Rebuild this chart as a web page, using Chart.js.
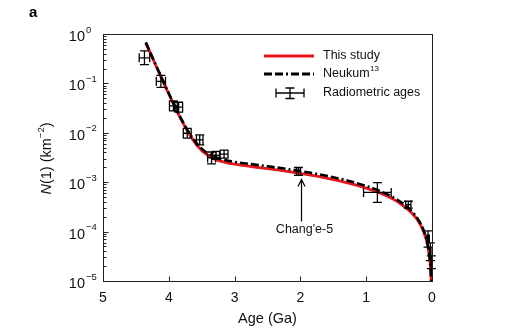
<!DOCTYPE html>
<html>
<head>
<meta charset="utf-8">
<script src="https://cdn.jsdelivr.net/npm/chart.js@4.4.0/dist/chart.umd.min.js"></script>
<style>
  html, body { margin: 0; padding: 0; background: #fff; }
</style>
</head>
<body>
<canvas id="chartCrater" width="516" height="330"></canvas>
<script>
// model curves, N(1) in km^-2 vs age in Ga
const curveAges = [4.35, 4.3, 4.2, 4.1, 4.0, 3.9, 3.8, 3.7, 3.6, 3.5, 3.4, 3.3, 3.2, 3.1, 3.0,
  2.75, 2.5, 2.25, 2.0, 1.75, 1.5, 1.25, 1.0, 0.8, 0.6, 0.45, 0.3, 0.2, 0.13, 0.08, 0.05,
  0.03, 0.02, 0.014, 0.01];
const thisStudyN = [0.66, 0.47, 0.236, 0.119, 0.061, 0.0318, 0.0172, 0.0099, 0.00625, 0.0044,
  0.00345, 0.00293, 0.00263, 0.00244, 0.00231, 0.00208, 0.00188, 0.0017, 0.00151, 0.00132,
  0.00113, 0.000945, 0.00076, 0.00061, 0.00046, 0.000345, 0.000232, 0.000156, 0.000102,
  0.000063, 0.0000395, 0.0000238, 0.000016, 0.0000112, 0.000008];
const neukumN = [0.676, 0.479, 0.241, 0.122, 0.0628, 0.033, 0.018, 0.0105, 0.00673, 0.00479,
  0.00378, 0.00323, 0.00291, 0.00271, 0.00257, 0.00232, 0.0021, 0.00189, 0.00168, 0.00147,
  0.00126, 0.00105, 0.000838, 0.00067, 0.000503, 0.000377, 0.000251, 0.000168, 0.000109,
  0.000067, 0.0000419, 0.0000251, 0.0000168, 0.0000117, 0.0000084];

// radiometric calibration samples (age ± err, N(1) ± err in decades)
const sampleAges = [4.37, 4.12, 3.93, 3.85, 3.72, 3.53, 3.35, 3.28, 3.16, 2.03, 0.83, 0.36, 0.06, 0.025, 0.01];
const sampleAgeErr = [0.08, 0.07, 0.06, 0.06, 0.06, 0.05, 0.06, 0.05, 0.06, 0.03, 0.21, 0.04, 0.02, 0.01, 0.005];
const sampleN = [0.33, 0.11, 0.035, 0.033, 0.0098, 0.0072, 0.0031, 0.0035, 0.0037, 0.00165,
  0.00062, 0.00035, 0.000071, 0.000039, 0.000024];
const sampleNErr = [0.14, 0.12, 0.1, 0.1, 0.1, 0.1, 0.12, 0.08, 0.08, 0.08, 0.2, 0.07, 0.165, 0.18, 0.13];

const ageTicks = [5, 4, 3, 2, 1, 0];
const nDecades = [0, -1, -2, -3, -4, -5];
const legendLabels = ['This study', 'Neukum', 'Radiometric ages'];
const ce5Age = 1.99;

const FONT = '"Liberation Sans", Arial, Helvetica, sans-serif';
const RED = '#e8161d';
const CAP = 4.5;

function errBar(ctx, x0, y0, x1, y1, horiz) {
  ctx.moveTo(x0, y0); ctx.lineTo(x1, y1);
  if (horiz) {
    ctx.moveTo(x0, y0 - CAP); ctx.lineTo(x0, y0 + CAP);
    ctx.moveTo(x1, y1 - CAP); ctx.lineTo(x1, y1 + CAP);
  } else {
    ctx.moveTo(x0 - CAP, y0); ctx.lineTo(x0 + CAP, y0);
    ctx.moveTo(x1 - CAP, y1); ctx.lineTo(x1 + CAP, y1);
  }
}

const decor = {
  id: 'decor',
  afterDatasetsDraw(chart) {
    const {ctx, scales: {x, y}} = chart;
    const pts = chart.data.datasets[2].data;
    ctx.save();
    ctx.strokeStyle = '#000';
    ctx.lineWidth = 1.3;
    ctx.beginPath();
    pts.forEach(p => {
      const px = x.getPixelForValue(p.x), py = y.getPixelForValue(p.y);
      errBar(ctx, x.getPixelForValue(p.x + p.xErr), py, x.getPixelForValue(p.x - p.xErr), py, true);
      const f = Math.pow(10, p.yErr);
      errBar(ctx, px, y.getPixelForValue(p.y * f), px, y.getPixelForValue(p.y / f), false);
    });
    ctx.stroke();
    ctx.restore();
  },
  afterDraw(chart) {
    const {ctx, chartArea: a, scales: {x, y}} = chart;
    ctx.save();
    // frame
    ctx.strokeStyle = '#222';
    ctx.lineWidth = 1;
    ctx.strokeRect(Math.round(a.left) + 0.5, Math.round(a.top) + 0.5,
      Math.round(a.right - a.left), Math.round(a.bottom - a.top));
    // inward ticks
    ctx.beginPath();
    const L = Math.round(a.left) + 0.5, B = Math.round(a.bottom) + 0.5;
    nDecades.forEach(d => {
      const py = Math.round(y.getPixelForValue(Math.pow(10, d))) + 0.5;
      ctx.moveTo(L, py); ctx.lineTo(L + 5, py);
      if (d > -5) {
        for (let m = 2; m <= 9; m++) {
          const my = Math.round(y.getPixelForValue(m * Math.pow(10, d - 1))) + 0.5;
          ctx.moveTo(L, my); ctx.lineTo(L + 3, my);
        }
      }
    });
    ageTicks.forEach(t => {
      const px = Math.round(x.getPixelForValue(t)) + 0.5;
      ctx.moveTo(px, B); ctx.lineTo(px, B - 5);
    });
    ctx.stroke();

    // y tick labels 10^n
    ctx.fillStyle = '#111';
    nDecades.forEach(d => {
      const py = y.getPixelForValue(Math.pow(10, d));
      ctx.font = '14.5px ' + FONT;
      ctx.textAlign = 'right';
      ctx.textBaseline = 'middle';
      ctx.fillText('10', 85, py + 3);
      ctx.font = '9.5px ' + FONT;
      ctx.textAlign = 'left';
      ctx.fillText(d === 0 ? '0' : '\u2212' + (-d), 86, py - 4);
    });

    // y axis title: N(1) (km^-2)
    ctx.save();
    ctx.translate(47, (a.top + a.bottom) / 2 + 1);
    ctx.rotate(-Math.PI / 2);
    ctx.textBaseline = 'middle';
    ctx.textAlign = 'left';
    const parts = [
      {t: 'N', f: 'italic 14.5px ' + FONT, dy: 0},
      {t: '(1) (km', f: '14.5px ' + FONT, dy: 0},
      {t: '\u22122', f: '9.5px ' + FONT, dy: -6},
      {t: ')', f: '14.5px ' + FONT, dy: 0}
    ];
    let tw = 0;
    parts.forEach(p => { ctx.font = p.f; p.w = ctx.measureText(p.t).width; tw += p.w; });
    let cx = -tw / 2;
    parts.forEach(p => { ctx.font = p.f; ctx.fillText(p.t, cx, p.dy); cx += p.w; });
    ctx.restore();

    // panel letter
    ctx.font = 'bold 15px ' + FONT;
    ctx.textAlign = 'left';
    ctx.textBaseline = 'alphabetic';
    ctx.fillStyle = '#000';
    ctx.fillText('a', 29, 17);

    // legend
    ctx.lineWidth = 2.8;
    ctx.strokeStyle = RED;
    ctx.beginPath(); ctx.moveTo(264, 56); ctx.lineTo(314, 56); ctx.stroke();
    ctx.strokeStyle = '#000';
    ctx.setLineDash([8, 3, 8, 3, 2, 3]);
    ctx.beginPath(); ctx.moveTo(264, 74); ctx.lineTo(314, 74); ctx.stroke();
    ctx.setLineDash([]);
    ctx.lineWidth = 1.3;
    ctx.beginPath();
    errBar(ctx, 276, 93, 304, 93, true);
    errBar(ctx, 290, 88, 290, 98.5, false);
    ctx.stroke();
    ctx.font = '12.5px ' + FONT;
    ctx.textBaseline = 'middle';
    ctx.fillStyle = '#111';
    ctx.fillText(legendLabels[0], 323, 56);
    ctx.fillText(legendLabels[1], 323, 74);
    const nw = ctx.measureText(legendLabels[1]).width;
    ctx.fillText(legendLabels[2], 323, 93);
    ctx.font = '8px ' + FONT;
    ctx.fillText('13', 323 + nw + 0.5, 69);

    // Chang'e-5 arrow
    const ax = Math.round(x.getPixelForValue(ce5Age)) + 0.5;
    const tip = y.getPixelForValue(sampleN[9]) + 8;
    ctx.lineWidth = 1.2;
    ctx.beginPath();
    ctx.moveTo(ax, tip + 42); ctx.lineTo(ax, tip);
    ctx.moveTo(ax - 3.5, tip + 7); ctx.lineTo(ax, tip); ctx.lineTo(ax + 3.5, tip + 7);
    ctx.stroke();
    ctx.font = '12.5px ' + FONT;
    ctx.textAlign = 'center';
    ctx.fillText("Chang'e-5", ax + 3, tip + 50);
    ctx.restore();
  }
};

const samples = sampleAges.map((t, i) => ({x: t, y: sampleN[i], xErr: sampleAgeErr[i], yErr: sampleNErr[i]}));

new Chart(document.getElementById('chartCrater'), {
  type: 'scatter',
  data: {
    datasets: [
      {
        label: legendLabels[1],
        data: curveAges.map((t, i) => ({x: t, y: neukumN[i]})),
        showLine: true,
        borderColor: '#000',
        borderWidth: 2.6,
        borderDash: [8, 3, 8, 3, 2, 3],
        pointRadius: 0,
        cubicInterpolationMode: 'monotone',
        order: 1
      },
      {
        label: legendLabels[0],
        data: curveAges.map((t, i) => ({x: t, y: thisStudyN[i]})),
        showLine: true,
        borderColor: RED,
        borderWidth: 2.8,
        pointRadius: 0,
        cubicInterpolationMode: 'monotone',
        order: 2
      },
      {
        label: legendLabels[2],
        data: samples,
        pointRadius: 0,
        order: 0
      }
    ]
  },
  options: {
    responsive: false,
    animation: false,
    layout: { padding: { top: 34, right: 84, left: 0, bottom: 0 } },
    plugins: { legend: { display: false }, tooltip: { enabled: false } },
    scales: {
      x: {
        type: 'linear',
        min: 0,
        max: 5,
        reverse: true,
        grid: { display: false },
        border: { display: false },
        afterFit: s => { s.height = 49; },
        ticks: {
          stepSize: 1,
          padding: 1,
          color: '#111',
          font: { family: FONT, size: 14 }
        },
        title: {
          display: true,
          text: 'Age (Ga)',
          color: '#111',
          font: { family: FONT, size: 14.5 },
          padding: { top: 0, bottom: 2 }
        }
      },
      y: {
        type: 'logarithmic',
        min: 1e-5,
        max: 1,
        grid: { display: false },
        border: { display: false },
        ticks: { display: false },
        afterFit: s => { s.width = 103; }
      }
    }
  },
  plugins: [decor]
});
</script>
</body>
</html>
